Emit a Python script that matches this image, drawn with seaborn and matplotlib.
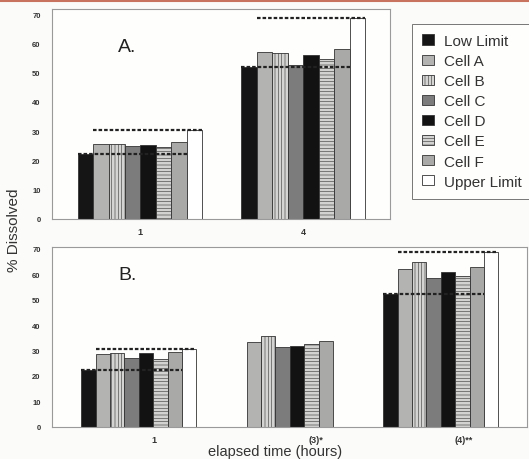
import numpy as np
import pandas as pd
import matplotlib.pyplot as plt
import seaborn as sns

# datos
series = ['Low Limit', 'Cell A', 'Cell B', 'Cell C', 'Cell D', 'Cell E', 'Cell F', 'Upper Limit']

times_a = ['1', '4']
low_a = [22.3, 52.0]
cells_a = {
    'Cell A': [25.5, 57.0],
    'Cell B': [25.5, 56.7],
    'Cell C': [25.0, 52.6],
    'Cell D': [25.2, 56.0],
    'Cell E': [24.5, 54.6],
    'Cell F': [26.2, 58.0],
}
upper_a = [30.5, 68.5]

times_b = ['1', '(3)*', '(4)**']
low_b = [22.3, np.nan, 52.2]
cells_b = {
    'Cell A': [28.7, 33.4, 62.1],
    'Cell B': [29.1, 35.6, 65.0],
    'Cell C': [27.2, 31.3, 58.4],
    'Cell D': [29.1, 31.8, 61.0],
    'Cell E': [26.8, 32.5, 59.2],
    'Cell F': [29.4, 33.7, 63.0],
}
upper_b = [30.6, np.nan, 68.7]

# estilo de cada serie: color, trama
estilos = {
    'Low Limit': ('#151515', ''),
    'Cell A': ('#b3b3b1', ''),
    'Cell B': ('#d4d4d2', '|||||'),
    'Cell C': ('#7c7c7c', ''),
    'Cell D': ('#121212', ''),
    'Cell E': ('#d2d2d0', '-----'),
    'Cell F': ('#a9a9a7', ''),
    'Upper Limit': ('#ffffff', ''),
}


def armar_df(times, low, cells, upper):
    filas = []
    for i, t in enumerate(times):
        filas.append((t, 'Low Limit', low[i]))
        for nombre, vals in cells.items():
            filas.append((t, nombre, vals[i]))
        filas.append((t, 'Upper Limit', upper[i]))
    return pd.DataFrame(filas, columns=['tiempo', 'serie', 'valor'])


def estilizar(p, nombre):
    color, trama = estilos[nombre]
    p.set_facecolor(color)
    p.set_edgecolor('#333333')
    p.set_linewidth(0.6)
    p.set_hatch(trama)


sns.set_style('white')
plt.rcParams['font.family'] = ['Liberation Sans', 'DejaVu Sans']
plt.rcParams['hatch.linewidth'] = 0.4

fig = plt.figure(figsize=(5.29, 4.6), dpi=100, facecolor='#fbfbf9')
ax_a = fig.add_axes([0.098, 0.522, 0.639, 0.456])
ax_b = fig.add_axes([0.098, 0.070, 0.898, 0.391])


def dibujar(ax, times, low, cells, upper, ymax, xlim):
    df = armar_df(times, low, cells, upper)
    sns.barplot(data=df, x='tiempo', y='valor', hue='serie', hue_order=series,
                order=times, width=0.76, ax=ax, errorbar=None, legend=True)
    # barras por serie y por grupo
    barras = {}
    for nombre, cont in zip(series, ax.containers):
        for p in cont.patches:
            estilizar(p, nombre)
            grupo = int(round(p.get_x() + p.get_width() / 2))
            barras[(nombre, grupo)] = p
    # lineas punteadas de los limites
    for i in range(len(times)):
        if np.isnan(low[i]):
            continue
        izq = barras[('Low Limit', i)]
        a = barras[('Cell A', i)]
        f = barras[('Cell F', i)]
        up = barras[('Upper Limit', i)]
        ax.hlines(low[i], izq.get_x(), f.get_x() + f.get_width(),
                  colors='#222222', linestyles=(0, (1.6, 0.9)), linewidth=1.6, zorder=5)
        ax.hlines(upper[i], a.get_x(), up.get_x() + up.get_width(),
                  colors='#222222', linestyles=(0, (1.6, 0.9)), linewidth=1.6, zorder=5)
    ax.set_ylim(0, ymax)
    ax.set_xlim(*xlim)
    ax.set_yticks(range(0, 80, 10))
    ax.tick_params(axis='y', length=2, width=0.6, labelsize=5.5, pad=6, color='#777777')
    ax.tick_params(axis='x', length=0, labelsize=6.5, pad=6)
    for lab in ax.get_yticklabels() + ax.get_xticklabels():
        lab.set_fontweight('bold')
        lab.set_color('#333333')
    for s in ax.spines.values():
        s.set_color('#9a9a9a')
        s.set_linewidth(0.8)
    ax.set_facecolor('#fefefd')
    ax.set_xlabel('')
    ax.set_ylabel('')


dibujar(ax_a, times_a, low_a, cells_a, upper_a, 71.7, (-0.54, 1.53))
dibujar(ax_b, times_b, low_b, cells_b, upper_b, 70.8, (-0.576, 2.57))

# etiquetas del panel B un poco corridas a la derecha, como en el original
ax_b.set_xticks(np.array([0.1, 0.17, 0.15]) + np.arange(len(times_b)))
ax_b.set_xticklabels(times_b)
for lab in ax_b.get_xticklabels():
    lab.set_fontweight('bold')
    lab.set_color('#333333')

handles, labels = ax_a.get_legend_handles_labels()
ax_a.get_legend().remove()
ax_b.get_legend().remove()
leg = fig.legend(handles, labels, loc='upper left', bbox_to_anchor=(0.779, 0.3, 0.24, 0.6457),
                 mode='expand', borderaxespad=0, frameon=True, fontsize=11,
                 handlelength=0.78, handleheight=0.65, labelspacing=0.4, borderpad=0.65,
                 handletextpad=0.65, fancybox=False, edgecolor='#555555')
leg.get_frame().set_linewidth(0.7)
for h, nombre in zip(leg.legend_handles, labels):
    estilizar(h, nombre)
for t in leg.get_texts():
    t.set_color('#333333')

ax_a.text(0.195, 0.80, 'A.', transform=ax_a.transAxes, fontsize=14, color='#222222')
ax_b.text(0.14, 0.82, 'B.', transform=ax_b.transAxes, fontsize=14, color='#222222')

fig.text(0.027, 0.50, '% Dissolved', rotation=90, ha='center', va='center',
         fontsize=11, color='#333333')
fig.text(0.52, 0.018, 'elapsed time (hours)', ha='center', va='center',
         fontsize=10.5, color='#333333')

# linea rojiza del borde superior del escaneo
fig.add_artist(plt.Line2D([0, 1], [0.996, 0.996], transform=fig.transFigure,
                          color='#c8735f', linewidth=1.5))

plt.savefig('out.png', dpi=100, facecolor=fig.get_facecolor())
